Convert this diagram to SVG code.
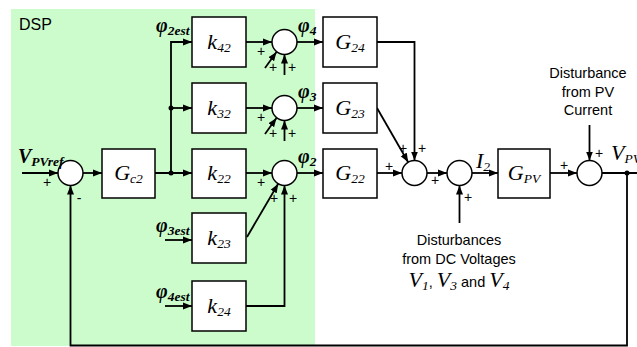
<svg xmlns="http://www.w3.org/2000/svg" width="637" height="347" viewBox="0 0 637 347">
<style>
.ln{fill:none;stroke:#000;stroke-width:1.8}
.box{fill:#fff;stroke:#000;stroke-width:1.5}
.sum{fill:#fff;stroke:#000;stroke-width:1.5}
.lbl{font-family:"Liberation Serif","Times New Roman",serif;font-style:italic;font-size:22px}
.phi{font-family:"Liberation Serif","Times New Roman",serif;font-style:italic;font-weight:bold;font-size:20px}
.sub{font-size:13.5px}
.sans{font-family:"Liberation Sans",Arial,sans-serif;font-size:14.5px;text-anchor:middle}
.pm{font-family:"Liberation Sans",Arial,sans-serif;font-size:14px;text-anchor:middle}
</style>
<defs>
<marker id="ah" markerWidth="10" markerHeight="8" refX="9" refY="4" orient="auto" markerUnits="userSpaceOnUse"><path d="M0,0.5 L9,4 L0,7.5 z" fill="#000"/></marker>
</defs>
<rect x="11" y="9" width="304" height="337" fill="#ccfccc"/>
<text x="19" y="30" font-family="Liberation Sans,Arial,sans-serif" font-size="16">DSP</text>

<g id="connectors">
<path class="ln" d="M22,173 H58" marker-end="url(#ah)"/>
<path class="ln" d="M83,173 H102" marker-end="url(#ah)"/>
<path class="ln" d="M155,173 H192" marker-end="url(#ah)"/>
<path class="ln" d="M171,173 V42 H192" marker-end="url(#ah)"/>
<path class="ln" d="M171,108 H192" marker-end="url(#ah)"/>
<circle cx="171" cy="173" r="2.5"/>
<circle cx="171" cy="108" r="2.5"/>
<path class="ln" d="M246,42 H272" marker-end="url(#ah)"/>
<path class="ln" d="M246,108 H272" marker-end="url(#ah)"/>
<path class="ln" d="M246,173 H272" marker-end="url(#ah)"/>
<path class="ln" d="M265,68 L276.5,52" marker-end="url(#ah)"/>
<path class="ln" d="M284.5,75 V54.5" marker-end="url(#ah)"/>
<path class="ln" d="M265,134 L276.5,118" marker-end="url(#ah)"/>
<path class="ln" d="M284.5,141 V120.5" marker-end="url(#ah)"/>
<path class="ln" d="M165,240 H192" marker-end="url(#ah)"/>
<path class="ln" d="M165,306 H192" marker-end="url(#ah)"/>
<path class="ln" d="M247,237 L278.2,183.8" marker-end="url(#ah)"/>
<path class="ln" d="M246,306 H284.5 V185.5" marker-end="url(#ah)"/>
<path class="ln" d="M297,42 H323" marker-end="url(#ah)"/>
<path class="ln" d="M297,108 H323" marker-end="url(#ah)"/>
<path class="ln" d="M297,173 H323" marker-end="url(#ah)"/>
<path class="ln" d="M377,42 H414.5 V160.5" marker-end="url(#ah)"/>
<path class="ln" d="M377,108 L408.2,162.2" marker-end="url(#ah)"/>
<path class="ln" d="M377,173 H402" marker-end="url(#ah)"/>
<path class="ln" d="M427,173 H447" marker-end="url(#ah)"/>
<path class="ln" d="M472,173 H498" marker-end="url(#ah)"/>
<path class="ln" d="M550,173 H577" marker-end="url(#ah)"/>
<path class="ln" d="M459.5,223 V185.5" marker-end="url(#ah)"/>
<path class="ln" d="M589.5,125 V160.5" marker-end="url(#ah)"/>
<path class="ln" d="M602,173 H637"/>
<circle cx="627" cy="173" r="2.5"/>
<path class="ln" d="M627,173 V345.5 H70.5 V185.5" marker-end="url(#ah)"/>
</g>

<g id="S0"><circle class="sum" cx="70.5" cy="173" r="12.5"/><text class="pm" x="47" y="187">+</text><text class="pm" x="79" y="203">-</text></g>
<g id="Gc2"><rect class="box" x="102" y="149" width="53" height="49"/><text class="lbl" x="128.5" y="180" text-anchor="middle">G<tspan class="sub" dy="3">c2</tspan></text></g>
<g id="k42"><rect class="box" x="192" y="17" width="54" height="50"/><text class="lbl" x="219" y="49" text-anchor="middle">k<tspan class="sub" dy="3">42</tspan></text></g>
<g id="k32"><rect class="box" x="192" y="83" width="54" height="50"/><text class="lbl" x="219" y="115" text-anchor="middle">k<tspan class="sub" dy="3">32</tspan></text></g>
<g id="k22"><rect class="box" x="192" y="149" width="54" height="49"/><text class="lbl" x="219" y="180" text-anchor="middle">k<tspan class="sub" dy="3">22</tspan></text></g>
<g id="k23"><rect class="box" x="192" y="213" width="54" height="50"/><text class="lbl" x="219" y="245" text-anchor="middle">k<tspan class="sub" dy="3">23</tspan></text></g>
<g id="k24"><rect class="box" x="192" y="281" width="54" height="50"/><text class="lbl" x="219" y="313" text-anchor="middle">k<tspan class="sub" dy="3">24</tspan></text></g>

<g id="S4"><circle class="sum" cx="284.5" cy="42" r="12.5"/><text class="pm" x="261" y="56">+</text><text class="pm" x="273" y="72">+</text><text class="pm" x="292" y="72">+</text></g>
<g id="S3"><circle class="sum" cx="284.5" cy="108" r="12.5"/><text class="pm" x="261" y="122">+</text><text class="pm" x="273" y="138">+</text><text class="pm" x="292" y="138">+</text></g>
<g id="S2"><circle class="sum" cx="284.5" cy="173" r="12.5"/><text class="pm" x="261" y="187">+</text><text class="pm" x="274" y="203">+</text><text class="pm" x="293" y="203">+</text></g>

<g id="G24"><rect class="box" x="323" y="17" width="54" height="50"/><text class="lbl" x="350" y="49" text-anchor="middle">G<tspan class="sub" dy="3">24</tspan></text></g>
<g id="G23"><rect class="box" x="323" y="83" width="54" height="50"/><text class="lbl" x="350" y="115" text-anchor="middle">G<tspan class="sub" dy="3">23</tspan></text></g>
<g id="G22"><rect class="box" x="323" y="149" width="54" height="49"/><text class="lbl" x="350" y="180" text-anchor="middle">G<tspan class="sub" dy="3">22</tspan></text></g>

<g id="SA"><circle class="sum" cx="414.5" cy="173" r="12.5"/><text class="pm" x="389" y="171">+</text><text class="pm" x="403" y="153">+</text><text class="pm" x="422" y="153">+</text></g>
<g id="SB"><circle class="sum" cx="459.5" cy="173" r="12.5"/><text class="pm" x="435" y="185">+</text><text class="pm" x="468" y="202">+</text></g>
<g id="GPV"><rect class="box" x="498" y="149" width="52" height="49"/><text class="lbl" x="524" y="180" text-anchor="middle">G<tspan class="sub" dy="3">PV</tspan></text></g>
<g id="SC"><circle class="sum" cx="589.5" cy="173" r="12.5"/><text class="pm" x="564" y="170">+</text><text class="pm" x="599" y="158">+</text></g>

<g id="labels">
<text class="phi" x="18" y="163">V<tspan class="sub" dy="3">PVref</tspan></text>
<text class="phi" x="156" y="32">φ<tspan class="sub" dy="3">2est</tspan></text>
<text class="phi" x="156" y="232">φ<tspan class="sub" dy="3">3est</tspan></text>
<text class="phi" x="156" y="298">φ<tspan class="sub" dy="3">4est</tspan></text>
<text class="phi" x="298" y="32">φ<tspan class="sub" dy="3">4</tspan></text>
<text class="phi" x="298" y="98">φ<tspan class="sub" dy="3">3</tspan></text>
<text class="phi" x="298" y="163">φ<tspan class="sub" dy="3">2</tspan></text>
<text class="lbl" x="476" y="168">I<tspan class="sub" dy="3">2</tspan></text>
<text class="lbl" x="611" y="160">V<tspan class="sub" dy="3">PV</tspan></text>
<text class="sans" x="588" y="78">Disturbance</text>
<text class="sans" x="588" y="97">from PV</text>
<text class="sans" x="588" y="115">Current</text>
<text class="sans" x="459" y="245">Disturbances</text>
<text class="sans" x="459" y="264">from DC Voltages</text>
<text class="sans" x="459" y="287"><tspan class="lbl">V</tspan><tspan class="lbl sub" dy="3">1</tspan><tspan dy="-3">, </tspan><tspan class="lbl">V</tspan><tspan class="lbl sub" dy="3">3</tspan><tspan dy="-3"> and </tspan><tspan class="lbl">V</tspan><tspan class="lbl sub" dy="3">4</tspan></text>
</g>
</svg>
